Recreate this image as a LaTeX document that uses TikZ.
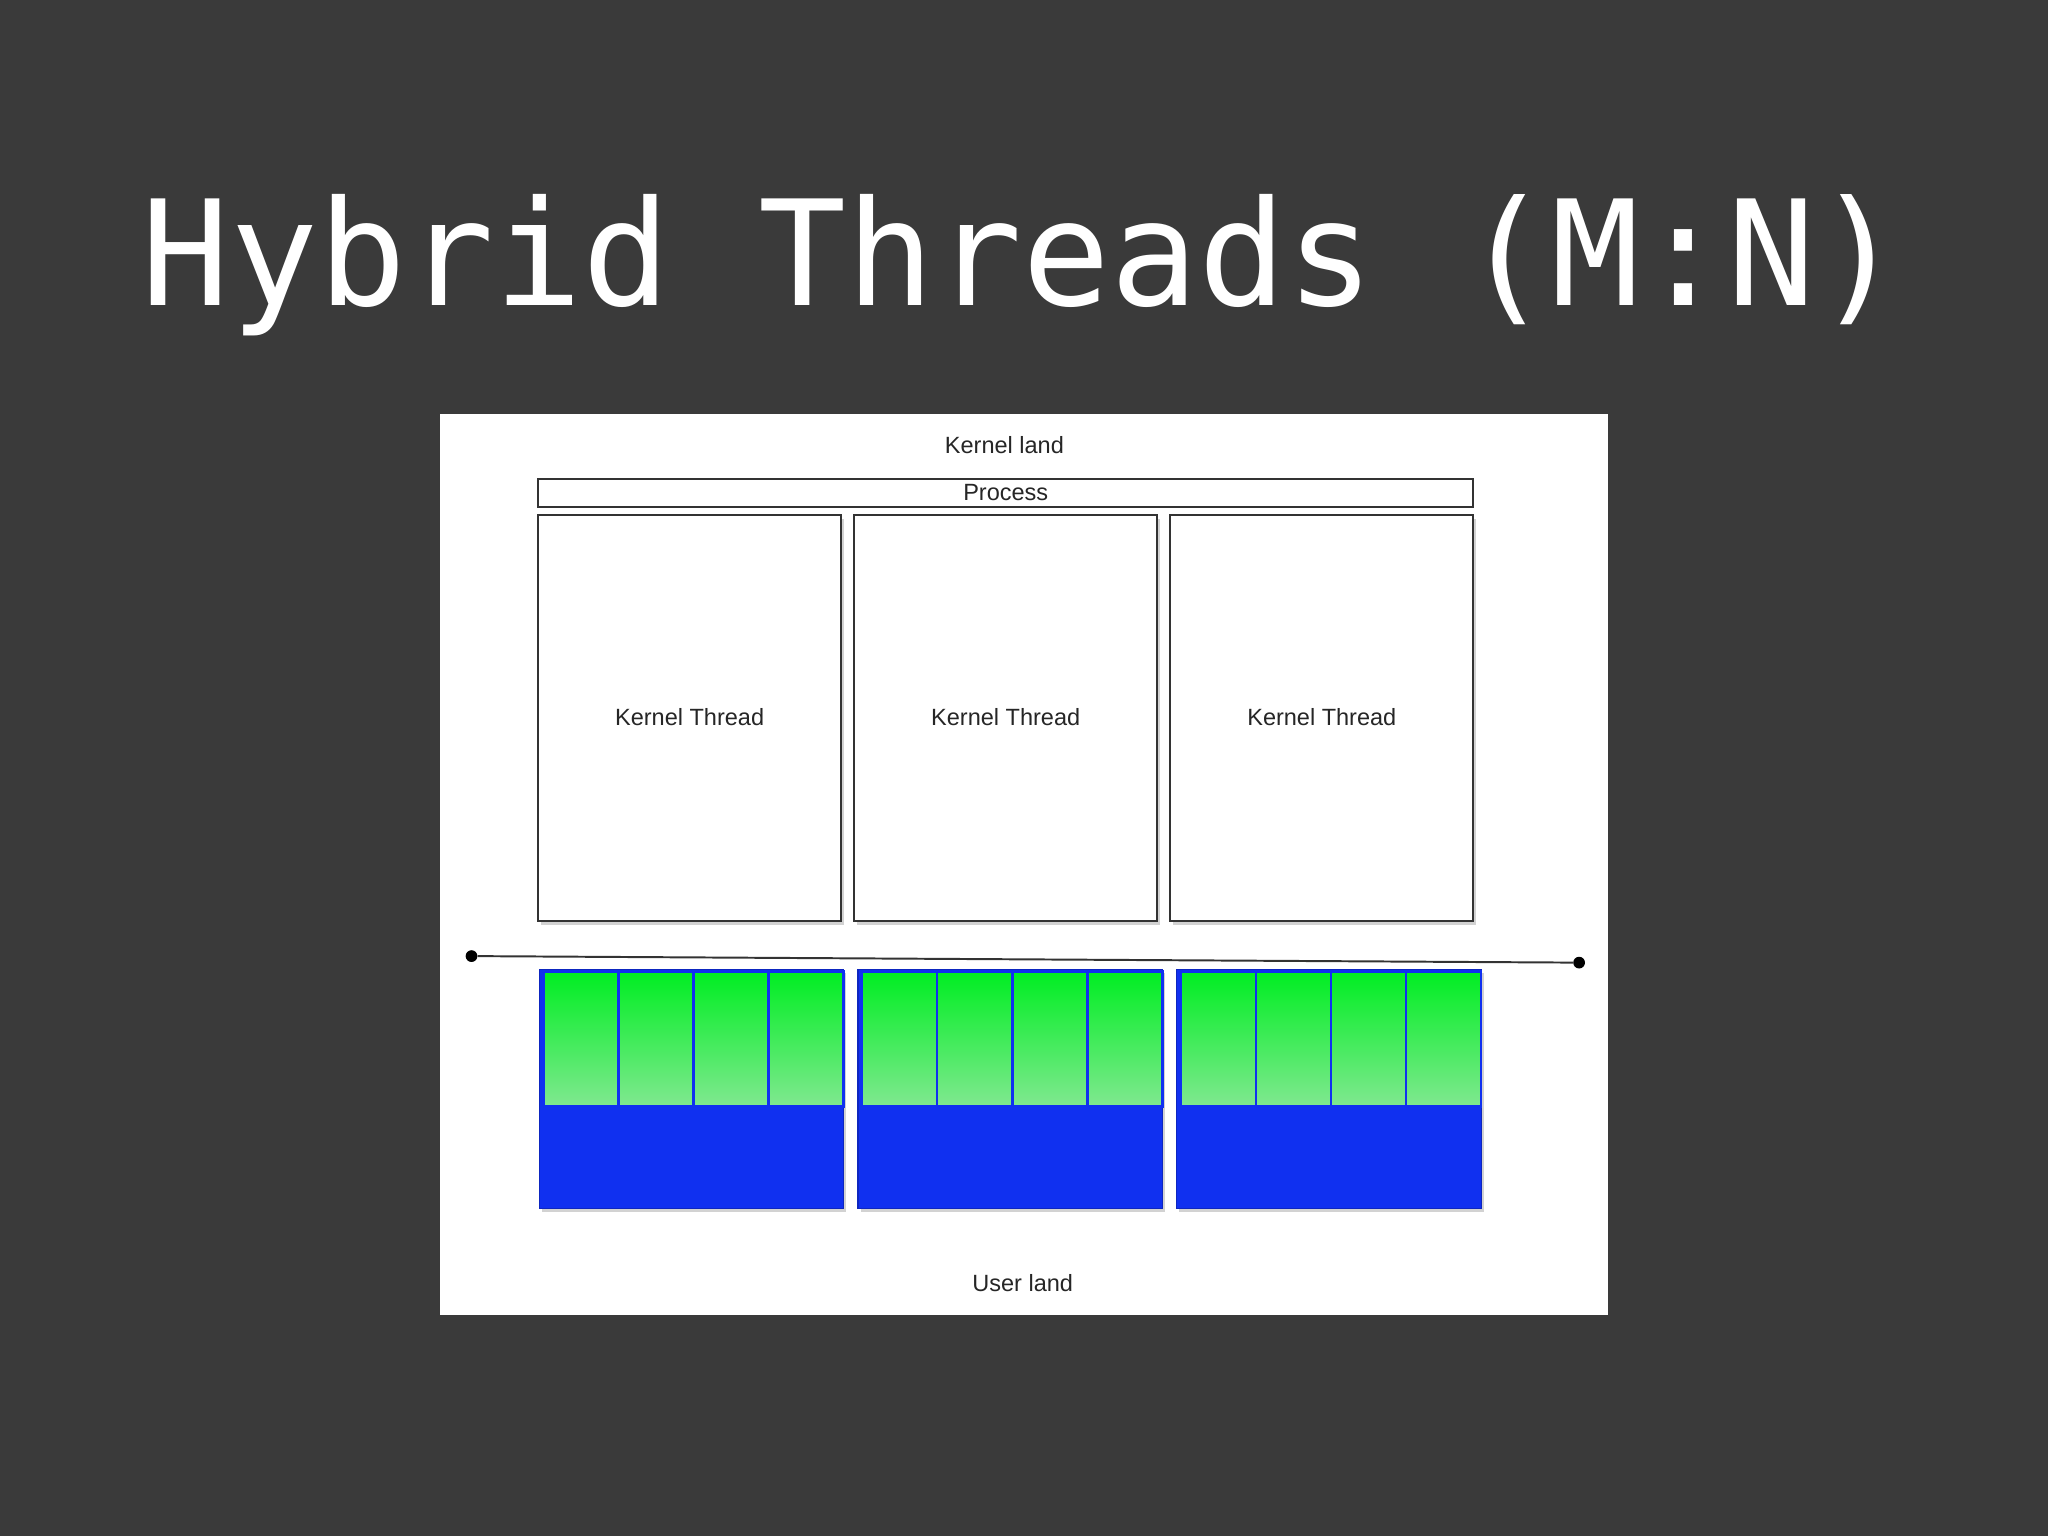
\documentclass[tikz,border=0pt]{standalone}
\usepackage{fontspec}
\setmainfont{Liberation Sans}
\newfontfamily\monof{DejaVu Sans Mono}
\usetikzlibrary{shadows}
\definecolor{bg}{HTML}{3A3A3A}
\definecolor{ublue}{HTML}{1030F0}
\definecolor{gtop}{HTML}{00EE22}
\definecolor{gbot}{HTML}{80E890}
\tikzset{
  lbl/.style={font=\fontsize{18}{20}\selectfont, text=black!85},
  kbox/.style={draw=black!80, line width=1.5pt, fill=white, drop shadow={shadow xshift=2pt, shadow yshift=-3pt, opacity=0.35}},
  ubox/.style={fill=ublue, draw=ublue!80!black, line width=1pt, drop shadow={shadow xshift=2pt, shadow yshift=-3pt, opacity=0.35}},
  gcell/.style={top color=gtop, bottom color=gbot, draw=ublue, line width=2pt},
  dotend/.style={circle, fill=black, inner sep=0pt, minimum size=9pt}
}
\begin{document}
\begin{tikzpicture}[x=1pt,y=-1pt]
\fill[bg] (0,0) rectangle (1568,1176);
\useasboundingbox (0,0) rectangle (1568,1176);
\node[text=white, font=\monof\fontsize{112}{120}\selectfont] (title) at (783,203) {Hybrid Threads (M:N)};
\fill[white] (337,317) rectangle (1231,1007);
\node[lbl] (kl) at (769,341) {Kernel land};
\draw[draw=black!80, line width=1.5pt, fill=white] (412,367) rectangle (1128,388);
\node[lbl] (proc) at (770,377) {Process};
\foreach \x/\n in {412/1,654/2,896/3}{
  \draw[kbox] (\x,394) rectangle ++(232,311);
  \node[lbl] (kt\n) at (\x+116,549) {Kernel Thread};
}
\node[dotend] (la) at (361,732) {};
\node[dotend] (lb) at (1209,737) {};
\draw[line width=1.5pt, black!80] (la) -- (lb);
\foreach \x in {413,657,901}{
  \draw[ubox] (\x,742) rectangle ++(233,183);
  \foreach \i in {0,1,2,3}{
    \draw[gcell] (\x+3+\i*57.5,744) rectangle ++(57.5,103);
  }
}
\node[lbl] (ul) at (783,982) {User land};
\end{tikzpicture}
\end{document}
